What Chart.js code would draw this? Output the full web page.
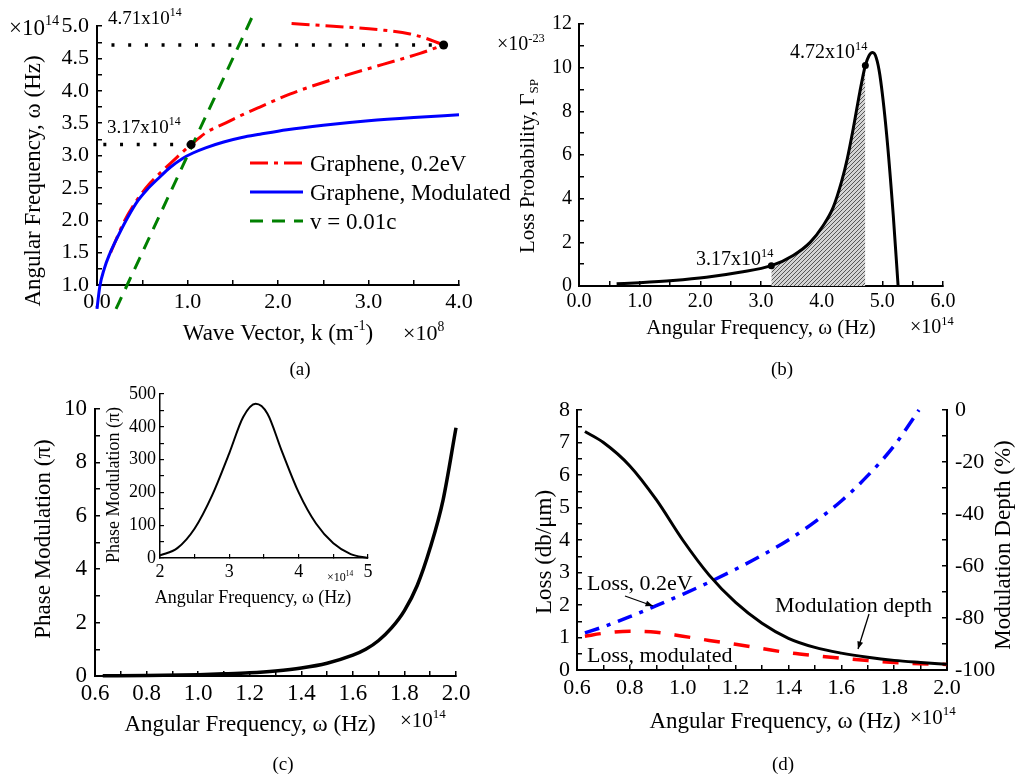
<!DOCTYPE html>
<html>
<head>
<meta charset="utf-8">
<title>Graphene plasmon dispersion, loss and modulation</title>
<script src="https://cdn.jsdelivr.net/npm/chart.js@4.4.1/dist/chart.umd.min.js"></script>
<style>
  body { margin: 0; background: #fff; }
  #figure { position: relative; width: 1016px; height: 779px; }
  #figure canvas { position: absolute; left: 0; top: 0; }
</style>
</head>
<body>
<div id="figure">
  <canvas id="dispersion" width="1016" height="779"></canvas>
  <canvas id="lossProb" width="1016" height="779"></canvas>
  <canvas id="phase" width="1016" height="779"></canvas>
  <canvas id="phaseInset" width="1016" height="779"></canvas>
  <canvas id="loss" width="1016" height="779"></canvas>
</div>
<script>
const SERIF = '"Liberation Serif", "Times New Roman", serif';
const W = 1016, H = 779;

// (a) dispersion: k in 1e8 m^-1, omega in 1e14 Hz
const kModulated = [0.0, 0.03, 0.08, 0.14, 0.22, 0.33, 0.45, 0.55, 0.68, 0.81, 0.95, 1.06, 1.2, 1.4, 1.6, 1.8, 2.1, 2.5, 3.0, 3.5, 4.0];
const wModulated = [0.63, 0.97, 1.25, 1.48, 1.72, 2.02, 2.3, 2.47, 2.65, 2.82, 2.96, 3.04, 3.12, 3.21, 3.28, 3.33, 3.40, 3.47, 3.54, 3.59, 3.63];
const kDopedLow = [0.15, 0.3, 0.45, 0.59, 0.72, 0.85, 0.95, 1.04, 1.21, 1.43, 1.65, 1.8, 2.13, 2.61, 3.16, 3.57, 3.83];
const wDopedLow = [1.5, 1.98, 2.33, 2.58, 2.76, 2.93, 3.06, 3.17, 3.36, 3.51, 3.66, 3.75, 3.95, 4.18, 4.41, 4.58, 4.71];
const kDopedHigh = [2.15, 2.61, 3.16, 3.46, 3.64, 3.83];
const wDopedHigh = [5.04, 5.0, 4.94, 4.88, 4.81, 4.71];
const kLight = [0.21, 1.72];
const wLight = [0.63, 5.16];
const markK = [1.04, 3.83];
const markW = [3.17, 4.71];
const guideFromK = [0.07, 0.16];
const kTicks = [0, 1, 2, 3, 4];
const wTicks = [1, 1.5, 2, 2.5, 3, 3.5, 4, 4.5, 5];

// (b) loss probability, omega in 1e14 Hz, gamma in 1e-23
const omegaB = [0.62, 1.0, 1.55, 2.1, 2.65, 3.17, 3.53, 3.81, 4.02, 4.19, 4.33, 4.42, 4.52, 4.63, 4.72, 4.78, 4.84, 4.9, 4.96, 5.07, 5.18, 5.26];
const gammaB = [0.1, 0.15, 0.25, 0.4, 0.63, 0.93, 1.4, 2.0, 2.75, 3.6, 4.8, 5.8, 7.2, 8.9, 10.1, 10.55, 10.69, 10.45, 9.65, 6.97, 3.24, 0];
const markOmegaB = [3.17, 4.72];
const omegaBTicks = [0, 1, 2, 3, 4, 5, 6];
const gammaBTicks = [0, 2, 4, 6, 8, 10, 12];

// (c) phase modulation and inset
const omegaC = [0.63, 0.8, 1.0, 1.1, 1.2, 1.3, 1.4, 1.5, 1.6, 1.65, 1.7, 1.75, 1.8, 1.85, 1.9, 1.95, 2.0];
const phaseC = [0.01, 0.02, 0.05, 0.08, 0.12, 0.19, 0.3, 0.48, 0.78, 1.0, 1.33, 1.8, 2.45, 3.4, 4.8, 6.6, 9.3];
const omegaCTicks = [0.6, 0.8, 1.0, 1.2, 1.4, 1.6, 1.8, 2.0];
const phaseCTicks = [0, 2, 4, 6, 8, 10];
const omegaInset = [2.0, 2.25, 2.5, 2.75, 3.0, 3.2, 3.38, 3.55, 3.75, 4.0, 4.25, 4.5, 4.75, 5.0];
const phaseInset = [8, 30, 90, 190, 320, 430, 470, 440, 330, 200, 105, 45, 12, 0];
const omegaInsetTicks = [2, 3, 4, 5];
const phaseInsetTicks = [0, 100, 200, 300, 400, 500];

// (d) loss and modulation depth
const omegaD = [0.63, 0.7, 0.8, 0.9, 1.0, 1.1, 1.2, 1.3, 1.4, 1.5, 1.6, 1.7, 1.8, 1.9, 2.0];
const depthD = [-8.3, -12.5, -21.5, -34.5, -50, -63.5, -74, -82, -87.8, -91.3, -93.5, -95.1, -96.3, -97.1, -97.8];
const lossModD = [1.04, 1.13, 1.19, 1.16, 1.04, 0.91, 0.79, 0.66, 0.53, 0.44, 0.36, 0.29, 0.23, 0.19, 0.17];
const omegaDoped = [0.63, 0.7, 0.8, 0.9, 1.0, 1.1, 1.2, 1.3, 1.4, 1.5, 1.6, 1.7, 1.8, 1.894];
const lossDoped = [1.14, 1.33, 1.64, 1.98, 2.33, 2.7, 3.1, 3.53, 4.0, 4.56, 5.2, 5.98, 6.9, 8.0];
const lossTicks = [0, 1, 2, 3, 4, 5, 6, 7, 8];
const depthTicks = [-100, -80, -60, -40, -20, 0];

Chart.defaults.font.family = SERIF;
Chart.defaults.color = '#000';

const pts = (xs, ys) => xs.map((x, i) => ({ x, y: ys[i] }));

// rich text: '^..' superscript, '_..' subscript
function rich(ctx, parts, x, y, size, align) {
  const segs = parts.map(p => {
    const kind = p[0] === '^' ? 1 : p[0] === '_' ? -1 : 0;
    const text = kind ? p.slice(1) : p;
    const sz = kind ? size * 0.62 : size;
    ctx.font = `${sz}px ${SERIF}`;
    return { kind, text, sz, w: ctx.measureText(text).width };
  });
  const total = segs.reduce((a, s) => a + s.w, 0);
  let cx = align === 'center' ? x - total / 2 : x;
  ctx.fillStyle = '#000';
  ctx.textAlign = 'left';
  ctx.textBaseline = 'alphabetic';
  segs.forEach(s => {
    ctx.font = `${s.sz}px ${SERIF}`;
    const dy = s.kind > 0 ? -size * 0.42 : s.kind < 0 ? size * 0.2 : 0;
    ctx.fillText(s.text, cx, y + dy);
    cx += s.w;
  });
}

function vtext(ctx, parts, cx, cy, size) {
  ctx.save();
  ctx.translate(cx, cy);
  ctx.rotate(-Math.PI / 2);
  rich(ctx, parts, 0, size * 0.33, size, 'center');
  ctx.restore();
}

function arrow(ctx, x1, y1, x2, y2) {
  ctx.save();
  ctx.strokeStyle = '#000';
  ctx.fillStyle = '#000';
  ctx.lineWidth = 1.3;
  ctx.beginPath(); ctx.moveTo(x1, y1); ctx.lineTo(x2, y2); ctx.stroke();
  const a = Math.atan2(y2 - y1, x2 - x1), L = 8, s = 0.38;
  ctx.beginPath();
  ctx.moveTo(x2, y2);
  ctx.lineTo(x2 - L * Math.cos(a - s), y2 - L * Math.sin(a - s));
  ctx.lineTo(x2 - L * Math.cos(a + s), y2 - L * Math.sin(a + s));
  ctx.closePath(); ctx.fill();
  ctx.restore();
}

// axis with inward tick marks at every minor step; only the labelled values get text
function linAxis(pos, min, max, labelled, minor, digits, size, pad, fit, opts) {
  const o = Object.assign({ lw: 2, tickLen: 5, tickW: 1.5 }, opts || {});
  const n = Math.round((max - min) / minor);
  const all = [];
  for (let i = 0; i <= n; i++) all.push(+(min + i * minor).toFixed(6));
  const isLabelled = v => labelled.some(t => Math.abs(t - v) < minor / 10);
  return {
    type: 'linear', position: pos, min, max,
    grid: {
      display: true, drawOnChartArea: false, drawTicks: true,
      tickLength: -o.tickLen, color: '#000', tickColor: '#000',
      lineWidth: o.tickW, tickWidth: o.tickW
    },
    border: { display: true, color: '#000', width: o.lw },
    afterBuildTicks: s => { s.ticks = all.map(v => ({ value: v })); },
    afterFit: s => { if (s.isHorizontal()) s.height = fit; else s.width = fit; },
    ticks: {
      padding: pad + o.tickLen, color: '#000', autoSkip: false, maxRotation: 0,
      font: { family: SERIF, size },
      callback: v => isLabelled(v) ? v.toFixed(digits) : ''
    }
  };
}

function line(data, color, width, dash, extra) {
  return Object.assign({
    data, showLine: true, borderColor: color, borderWidth: width,
    borderDash: dash || [], pointRadius: 0, fill: false, clip: false,
    cubicInterpolationMode: 'monotone'
  }, extra || {});
}

function dots(data, r) {
  return { data, showLine: false, pointRadius: r, pointBackgroundColor: '#000', pointBorderWidth: 0, clip: false };
}

function makeChart(id, pad, scales, datasets, notes) {
  return new Chart(document.getElementById(id), {
    type: 'scatter',
    data: { datasets },
    options: {
      responsive: false, animation: false, events: [],
      layout: { padding: pad },
      scales,
      plugins: { legend: { display: false }, tooltip: { enabled: false } }
    },
    plugins: [{ id: 'notes', afterDraw: c => notes(c.ctx, c) }]
  });
}

// ---- (a) dispersion ----
const dopedStyle = ['#ff0000', 3, [18, 6, 4, 6]];
const modStyle = ['#0000ff', 3, []];
const lightStyle = ['#008000', 3, [13, 9]];
makeChart('dispersion',
  { left: 0, top: 17, right: W - 459, bottom: H - 285 - 40 },
  {
    x: linAxis('bottom', 0, 4, kTicks, 0.5, 1, 22, 4, 40),
    y: linAxis('left', 1, 5, wTicks, 0.25, 1, 22, 8, 97)
  },
  [
    dots(pts(markK, markW), 4.5),
    line(pts(kLight, wLight), ...lightStyle),
    line(pts(kModulated, wModulated), ...modStyle),
    line(pts(kDopedLow, wDopedLow), ...dopedStyle),
    line(pts(kDopedHigh, wDopedHigh), ...dopedStyle),
    ...markK.map((k, i) => line(pts([guideFromK[i], k], [markW[i], markW[i]]), '#000', 3.5, [3, 13.7],
      { cubicInterpolationMode: 'default' }))
  ],
  ctx => {
    rich(ctx, ['×10', '^14'], 9, 35, 23);
    const labelAt = [[107, 133], [108, 24]];
    markW.forEach((w, i) => rich(ctx, [w.toFixed(2) + 'x10', '^14'], labelAt[i][0], labelAt[i][1], 19));
    const legend = [[dopedStyle, 'Graphene, 0.2eV'], [modStyle, 'Graphene, Modulated'], [lightStyle, 'v = 0.01c']];
    legend.forEach(([st, text], i) => {
      const y = 163 + i * 29;
      ctx.save();
      ctx.strokeStyle = st[0]; ctx.lineWidth = st[1]; ctx.setLineDash(st[2]);
      ctx.beginPath(); ctx.moveTo(250, y); ctx.lineTo(303, y); ctx.stroke();
      ctx.restore();
      rich(ctx, [text], 310, y + 8, 23);
    });
    rich(ctx, ['Wave Vector, k (m', '^-1', ')'], 278, 340, 23, 'center');
    rich(ctx, ['×10', '^8'], 403, 340, 22);
    rich(ctx, ['(a)'], 300, 375, 19, 'center');
    vtext(ctx, ['Angular Frequency, ω (Hz)'], 32, 181, 23);
  });

// ---- (b) loss probability ----
const markIdxB = markOmegaB.map(w => omegaB.indexOf(w));
const hatch = (() => {
  const c = document.createElement('canvas');
  c.width = c.height = 4;
  const g = c.getContext('2d');
  g.fillStyle = '#d4d4d4'; g.fillRect(0, 0, 4, 4);
  g.strokeStyle = '#4a4a4a'; g.lineWidth = 0.9;
  g.beginPath();
  g.moveTo(0, 4); g.lineTo(4, 0);
  g.moveTo(-1, 1); g.lineTo(1, -1);
  g.moveTo(3, 5); g.lineTo(5, 3);
  g.stroke();
  return g.createPattern(c, 'repeat');
})();
makeChart('lossProb',
  { left: 579 - 60, top: 17, right: W - 943, bottom: H - 286 - 40 },
  {
    x: linAxis('bottom', 0, 6, omegaBTicks, 0.5, 1, 20, 4, 40),
    y: linAxis('left', 0, 12, gammaBTicks, 1, 0, 20, 7, 60)
  },
  [
    dots(markIdxB.map(i => ({ x: omegaB[i], y: gammaB[i] })), 3.5),
    line(pts(omegaB, gammaB), '#000', 3),
    line(pts(omegaB, gammaB).slice(markIdxB[0], markIdxB[1] + 1), 'rgba(0,0,0,0)', 1, [],
      { fill: 'origin', backgroundColor: hatch })
  ],
  ctx => {
    rich(ctx, ['×10', '^-23'], 497, 50, 20);
    const labelAt = [[696, 265], [790, 58]];
    markOmegaB.forEach((w, i) => rich(ctx, [w.toFixed(2) + 'x10', '^14'], labelAt[i][0], labelAt[i][1], 20));
    vtext(ctx, ['Loss Probability, Γ', '_SP'], 527, 166, 21);
    rich(ctx, ['Angular Frequency, ω (Hz)'], 761, 334, 21, 'center');
    rich(ctx, ['×10', '^14'], 910, 333, 20);
    rich(ctx, ['(b)'], 782, 375, 19, 'center');
  });

// ---- (c) phase modulation ----
makeChart('phase',
  { left: 0, top: 409, right: W - 456, bottom: H - 676 - 40 },
  {
    x: linAxis('bottom', 0.6, 2.0, omegaCTicks, 0.1, 1, 23, 4, 40),
    y: linAxis('left', 0, 10, phaseCTicks, 1, 0, 23, 8, 95)
  },
  [line(pts(omegaC, phaseC), '#000', 3.5)],
  ctx => {
    vtext(ctx, ['Phase Modulation (π)'], 42, 539, 23);
    rich(ctx, ['Angular Frequency, ω (Hz)'], 250, 731, 23, 'center');
    rich(ctx, ['×10', '^14'], 400, 727, 21);
    rich(ctx, ['(c)'], 283, 770, 19, 'center');
  });

const insetAxis = { lw: 1.5, tickLen: 4, tickW: 1.2 };
makeChart('phaseInset',
  { left: 160 - 40, top: 394, right: W - 368, bottom: H - 558 - 30 },
  {
    x: linAxis('bottom', 2, 5, omegaInsetTicks, 0.5, 0, 18, 3, 30, insetAxis),
    y: linAxis('left', 0, 500, phaseInsetTicks, 50, 0, 18, 4, 40, insetAxis)
  },
  [line(pts(omegaInset, phaseInset), '#000', 2)],
  ctx => {
    vtext(ctx, ['Phase Modulation (π)'], 113, 485, 18);
    rich(ctx, ['Angular Frequency, ω (Hz)'], 253, 603, 18, 'center');
    rich(ctx, ['×10', '^14'], 327, 581, 12);
  });

// ---- (d) loss and modulation depth ----
makeChart('loss',
  { left: 577 - 60, top: 410, right: W - 947 - 60, bottom: H - 670 - 40 },
  {
    x: linAxis('bottom', 0.6, 2.0, omegaCTicks, 0.1, 1, 22, 5, 40),
    y: linAxis('left', 0, 8, lossTicks, 0.5, 0, 22, 7, 60),
    y1: linAxis('right', -100, 0, depthTicks, 10, 0, 22, 8, 60)
  },
  [
    line(pts(omegaD, depthD), '#000', 3, [], { yAxisID: 'y1' }),
    line(pts(omegaDoped, lossDoped), '#0000ff', 3.5, [15, 8, 4, 8]),
    line(pts(omegaD, lossModD), '#ff0000', 3.5, [16, 14])
  ],
  ctx => {
    vtext(ctx, ['Loss (db/μm)'], 543, 552, 23);
    vtext(ctx, ['Modulation Depth (%)'], 1002, 545, 23);
    rich(ctx, ['Angular Frequency, ω (Hz)'], 775, 728, 23, 'center');
    rich(ctx, ['×10', '^14'], 910, 724, 21);
    rich(ctx, ['(d)'], 783, 770, 19, 'center');
    rich(ctx, ['Loss, 0.2eV'], 587, 590, 22);
    arrow(ctx, 625, 596, 653, 606);
    rich(ctx, ['Modulation depth'], 775, 612, 22);
    arrow(ctx, 869, 614, 858, 649);
    rich(ctx, ['Loss, modulated'], 587, 662, 22);
  });
</script>
</body>
</html>
